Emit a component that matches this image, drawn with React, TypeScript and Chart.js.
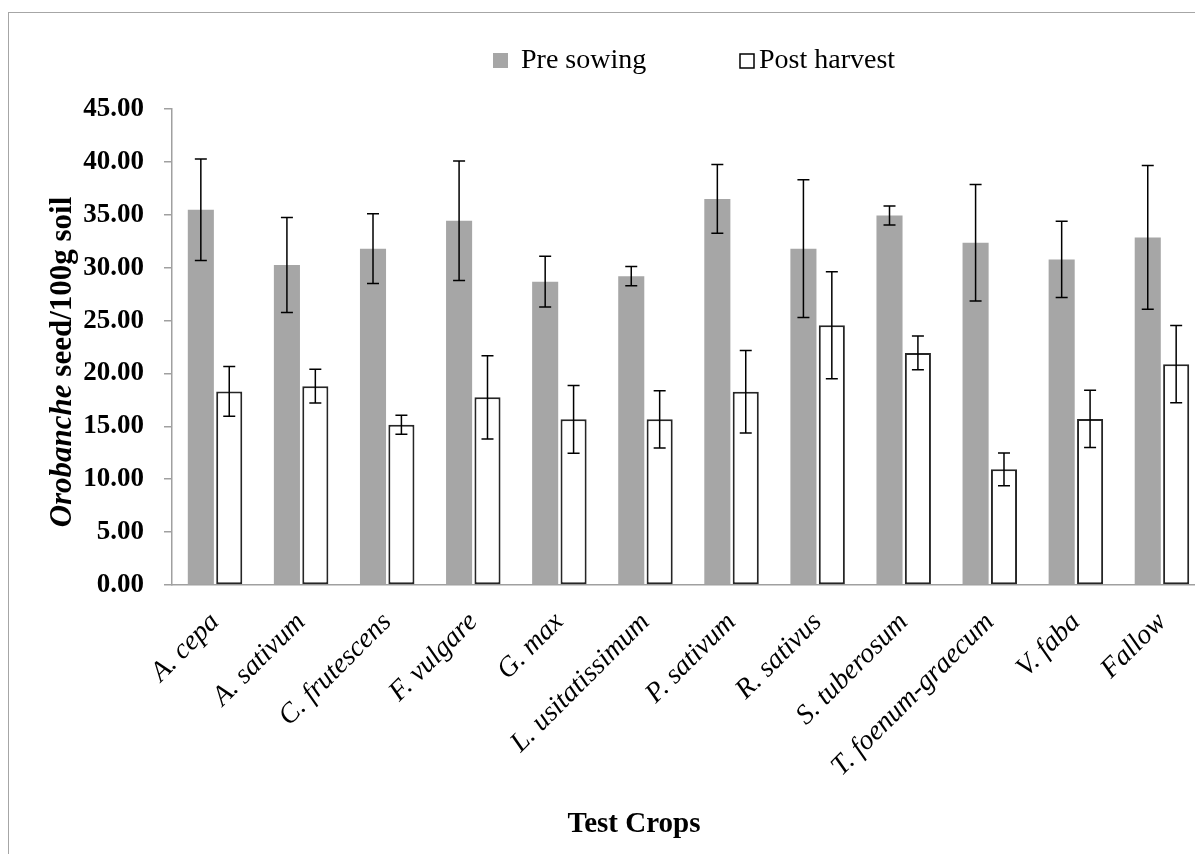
import React, { useEffect, useRef } from "react";
import { Chart, registerables } from "chart.js";

Chart.register(...registerables);

const categories = [
  "A. cepa",
  "A. sativum",
  "C. frutescens",
  "F. vulgare",
  "G. max",
  "L. usitatissimum",
  "P. sativum",
  "R. sativus",
  "S. tuberosum",
  "T. foenum-graecum",
  "V. faba",
  "Fallow",
];

const preSowing = [35.47, 30.25, 31.8, 34.43, 28.68, 29.2, 36.5, 31.8, 34.93, 32.36, 30.78, 32.86];
const preSowingErr = [4.8, 4.5, 3.3, 5.65, 2.4, 0.9, 3.25, 6.5, 0.9, 5.5, 3.6, 6.8];
const postHarvest = [18.3, 18.8, 15.15, 17.74, 15.66, 15.66, 18.26, 24.56, 21.94, 10.94, 15.7, 20.88];
const postHarvestErr = [2.35, 1.6, 0.9, 3.93, 3.2, 2.7, 3.9, 5.05, 1.6, 1.55, 2.7, 3.65];

const seriesNames = ["Pre sowing", "Post harvest"];
const yTitleItalic = "Orobanche";
const yTitleRest = " seed/100g soil";
const xTitle = "Test Crops";

const FONT = "'Liberation Serif', 'Times New Roman', serif";

const errorBarPlugin = {
  id: "errorBars",
  afterDatasetsDraw(chart: any) {
    const ctx = chart.ctx;
    const yScale = chart.scales.y;
    const errs = [preSowingErr, postHarvestErr];
    ctx.save();
    ctx.strokeStyle = "#000";
    ctx.lineWidth = 1.5;
    chart.data.datasets.forEach((ds: any, i: number) => {
      const meta = chart.getDatasetMeta(i);
      meta.data.forEach((el: any, j: number) => {
        const v = ds.data[j];
        const e = errs[i][j];
        const x = el.x;
        const yTop = yScale.getPixelForValue(v + e);
        const yBot = yScale.getPixelForValue(v - e);
        ctx.beginPath();
        ctx.moveTo(x, yTop);
        ctx.lineTo(x, yBot);
        ctx.moveTo(x - 6, yTop);
        ctx.lineTo(x + 6, yTop);
        ctx.moveTo(x - 6, yBot);
        ctx.lineTo(x + 6, yBot);
        ctx.stroke();
      });
    });
    ctx.restore();
  },
};

const textPlugin = {
  id: "customTexts",
  afterDraw(chart: any) {
    const ctx = chart.ctx;
    ctx.save();
    ctx.fillStyle = "#000";
    ctx.textBaseline = "middle";

    // Legend
    ctx.font = `28px ${FONT}`;
    ctx.fillStyle = "#A6A6A6";
    ctx.fillRect(493, 53, 15, 15);
    ctx.fillStyle = "#000";
    ctx.textAlign = "left";
    ctx.fillText(seriesNames[0], 521, 61);
    ctx.fillStyle = "#fff";
    ctx.fillRect(740, 54, 14, 14);
    ctx.strokeStyle = "#000";
    ctx.lineWidth = 1.5;
    ctx.strokeRect(740, 54, 14, 14);
    ctx.fillStyle = "#000";
    ctx.fillText(seriesNames[1], 759, 61);

    // X title
    ctx.font = `bold 29px ${FONT}`;
    ctx.textAlign = "center";
    ctx.fillText(xTitle, 634, 825);

    // Y title (mixed style)
    ctx.translate(63, 362);
    ctx.rotate(-Math.PI / 2);
    const fItalic = `italic bold 31px ${FONT}`;
    const fBold = `bold 31px ${FONT}`;
    ctx.font = fItalic;
    const w1 = ctx.measureText(yTitleItalic).width;
    ctx.font = fBold;
    const w2 = ctx.measureText(yTitleRest).width;
    const start = -(w1 + w2) / 2;
    ctx.textAlign = "left";
    ctx.font = fItalic;
    ctx.fillText(yTitleItalic, start, 0);
    ctx.font = fBold;
    ctx.fillText(yTitleRest, start + w1, 0);
    ctx.restore();
  },
};

export default function App() {
  const canvasRef = useRef<HTMLCanvasElement | null>(null);

  useEffect(() => {
    if (!canvasRef.current) return;
    const chart = new Chart(canvasRef.current, {
      type: "bar",
      data: {
        labels: categories,
        datasets: [
          {
            label: seriesNames[0],
            data: preSowing,
            backgroundColor: "#A6A6A6",
            borderWidth: 0,
            barPercentage: 0.918,
            categoryPercentage: 0.66,
          },
          {
            label: seriesNames[1],
            data: postHarvest,
            backgroundColor: "#FFFFFF",
            borderColor: "#262626",
            borderWidth: 2,
            borderSkipped: false,
            barPercentage: 0.918,
            categoryPercentage: 0.66,
          },
        ],
      },
      options: {
        responsive: false,
        animation: false,
        devicePixelRatio: 1,
        layout: { padding: { top: 109, left: 0, right: 5, bottom: 0 } },
        plugins: {
          legend: { display: false },
          tooltip: { enabled: false },
          title: { display: false },
        },
        scales: {
          x: {
            afterFit(scale: any) {
              scale.height = 269;
            },
            grid: { display: false },
            border: { display: true, color: "#A0A0A0", width: 1.5 },
            ticks: {
              color: "#000",
              font: { family: FONT, size: 28, style: "italic" },
              minRotation: 45,
              maxRotation: 45,
              autoSkip: false,
              padding: 13,
            },
          },
          y: {
            min: 0,
            max: 45,
            afterFit(scale: any) {
              scale.width = 172;
            },
            grid: {
              display: true,
              drawOnChartArea: false,
              drawTicks: true,
              tickLength: 8,
              color: "#A0A0A0",
              lineWidth: 1.5,
            },
            border: { display: true, color: "#A0A0A0", width: 1.5 },
            ticks: {
              stepSize: 5,
              color: "#000",
              padding: 20,
              font: { family: FONT, size: 27, weight: "bold" },
              callback: (v: any) => Number(v).toFixed(2),
            },
          },
        },
      },
      plugins: [errorBarPlugin, textPlugin],
    });
    return () => chart.destroy();
  }, []);

  return (
    <div
      style={{
        position: "absolute",
        left: 0,
        top: 0,
        width: 1195,
        height: 854,
        overflow: "hidden",
        background: "#fff",
      }}
    >
      <div
        style={{
          position: "absolute",
          left: 8,
          top: 12,
          width: 1400,
          height: 1000,
          border: "1px solid #A6A6A6",
        }}
      />
      <canvas
        ref={canvasRef}
        width={1210}
        height={854}
        style={{ position: "absolute", left: 0, top: 0, width: 1210, height: 854 }}
      />
    </div>
  );
}
